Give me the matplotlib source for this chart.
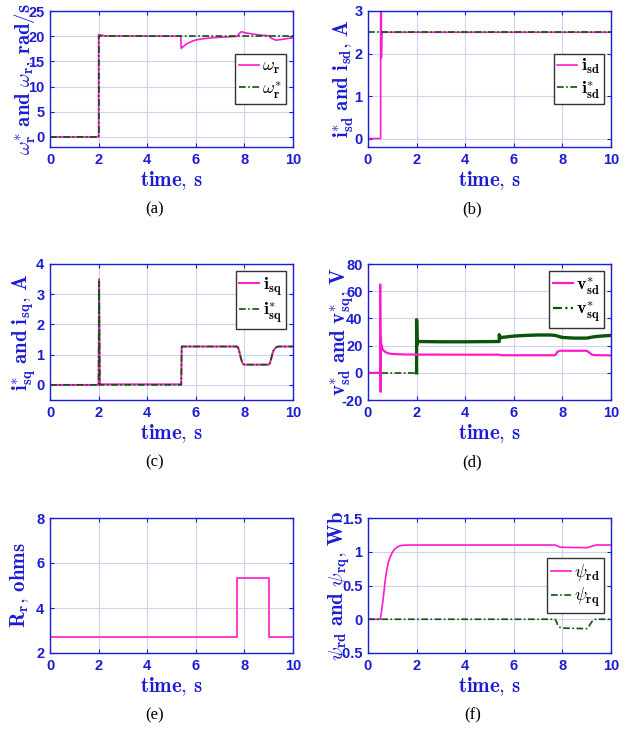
import numpy as np
import matplotlib.pyplot as plt
from matplotlib.lines import Line2D
from matplotlib.ticker import FuncFormatter

plt.rcParams['mathtext.fontset'] = 'cm'
plt.rcParams['axes.unicode_minus'] = False

BLUE = '#1c1cd2'
PINK = '#ff1acb'
GREEN = '#0b550b'
GRID = '#cfd3f0'
DASHDOT = (0, (4, 1.5, 1, 1.5))

# (a) rotor speed
t_wr = [0, 2.0, 2.0, 2.1, 2.3, 5.38, 5.4, 5.45, 5.6, 5.8, 6.0, 6.3, 6.7, 7.2, 7.7,
        7.78, 7.88, 8.0, 8.3, 8.7, 9.0, 9.1, 9.3, 9.6, 10]
wr = [0, 0, 20.3, 20.2, 20.05, 20.0, 17.6, 17.8, 18.4, 18.9, 19.25, 19.5, 19.7, 19.85, 19.95,
      20.5, 20.9, 20.7, 20.45, 20.2, 20.1, 19.6, 19.2, 19.4, 19.7]
t_wr_ref = [0, 2.0, 2.0, 10]
wr_ref = [0, 0, 20, 20]

# (b) d-axis stator current
t_isd = [0, 0.52, 0.52, 0.55, 0.55, 0.57, 10]
isd = [0, 0, 8, 8, 1.9, 2.5, 2.5]
t_isd_ref = [0, 10]
isd_ref = [2.5, 2.5]

# (c) q-axis stator current
t_isq = [0, 2.0, 2.02, 2.05, 5.4, 5.42, 7.7, 7.75, 7.8, 7.85, 7.9, 7.95, 8.0,
         9.0, 9.05, 9.1, 9.15, 9.2, 9.3, 9.4, 10]
isq = [0, 0, 3.5, 0.02, 0.02, 1.27, 1.27, 1.22, 1.08, 0.9, 0.76, 0.69, 0.67,
       0.67, 0.72, 0.86, 1.02, 1.14, 1.24, 1.27, 1.27]
isq_ref = [0, 0, 3.42, 0.0, 0.0, 1.27, 1.27, 1.22, 1.08, 0.9, 0.76, 0.69, 0.67,
           0.67, 0.72, 0.86, 1.02, 1.14, 1.24, 1.27, 1.27]

# (d) voltage references
t_vsd = [0, 0.5, 0.5, 0.52, 0.53, 0.55, 0.57, 0.6, 0.7, 0.8, 1.0, 1.5, 2.0, 5.4, 5.5,
         7.7, 7.8, 7.9, 9.0, 9.1, 9.2, 9.3, 10]
vsd = [0, 0, 65, -14, 26, 18, 20, 17, 15.5, 14.5, 13.8, 13.5, 13.4, 13.3, 12.9,
       12.9, 15.5, 16.2, 16.2, 15, 13.5, 13, 12.8]
t_vsq = [0, 2.0, 2.0, 2.02, 2.05, 3, 4, 5.4, 5.4, 5.45, 5.5, 6.0, 6.5, 7.0, 7.5,
         7.7, 8.0, 8.5, 9.0, 9.3, 9.6, 10]
vsq = [0, 0, 39, 21, 23, 22.8, 22.8, 23, 28, 25.5, 26, 27, 27.5, 27.8, 27.8,
       27.5, 26, 25.5, 25.5, 26.5, 27, 27.5]

# (e) rotor resistance
t_rr = [0, 7.7, 7.7, 9.0, 9.0, 10]
rr = [2.7, 2.7, 5.35, 5.35, 2.7, 2.7]

# (f) rotor flux
t_prd = [0, 0.5, 0.55, 0.62, 0.7, 0.75, 0.82, 0.89, 1.0, 1.1, 1.25, 1.4, 1.7,
         7.7, 7.9, 8.1, 9.0, 9.2, 9.4, 10]
prd = [0, 0, 0.1, 0.29, 0.55, 0.68, 0.82, 0.9, 0.99, 1.04, 1.08, 1.095, 1.1,
       1.1, 1.07, 1.065, 1.06, 1.08, 1.1, 1.1]
t_prq = [0, 7.7, 7.75, 7.8, 7.9, 8.0, 9.0, 9.1, 9.2, 9.35, 10]
prq = [0, 0, -0.03, -0.08, -0.12, -0.13, -0.14, -0.1, -0.04, 0, 0]

W, H = 638, 732
fig = plt.figure(figsize=(W / 100, H / 100), dpi=100)


def make_axes(left, top, bottom):
    w = 243
    h = bottom - top
    return fig.add_axes([left / W, (H - bottom) / H, w / W, h / H])


def style(ax, ylim, yticks, ylabel, caption, ylab_x=-0.05):
    ax.set_xlim(0, 10)
    ax.set_ylim(*ylim)
    ax.set_xticks([0, 2, 4, 6, 8, 10])
    ax.set_yticks(yticks)
    fmt = FuncFormatter(lambda v, p: '{:g}'.format(v))
    ax.xaxis.set_major_formatter(fmt)
    ax.yaxis.set_major_formatter(fmt)
    ax.grid(True, color=GRID, linewidth=0.8)
    ax.set_axisbelow(True)
    for s in ax.spines.values():
        s.set_color(BLUE)
        s.set_linewidth(1.0)
    ax.tick_params(direction='in', length=3, width=0.8, colors=BLUE,
                   top=True, right=True, pad=4)
    for lab in ax.get_xticklabels() + ax.get_yticklabels():
        lab.set_fontfamily('Liberation Sans')
        lab.set_fontweight('bold')
        lab.set_fontsize(10.5)
    ax.set_xlabel(r'$\mathbf{time,\,s}$', color=BLUE, fontsize=15, labelpad=2)
    ax.set_ylabel(ylabel, color=BLUE, fontsize=15)
    ax.yaxis.set_label_coords(ylab_x, 0.5)
    ax.text(0.43, -0.46, caption, transform=ax.transAxes, ha='center', va='center',
            fontfamily='Liberation Serif', fontsize=12, color='black')


def legend(ax, handles, labels, loc):
    lg = ax.legend(handles, labels, loc=loc, fontsize=13, frameon=True, fancybox=False,
                   framealpha=1, edgecolor='#333333', borderpad=0.2, labelspacing=0.12,
                   handlelength=1.1, handletextpad=0.2, borderaxespad=0.4)
    lg.get_frame().set_linewidth(1.0)


# (a)
ax = make_axes(50, 11, 147)
l1, = ax.plot(t_wr, wr, color=PINK, lw=1.2)
l2, = ax.plot(t_wr_ref, wr_ref, color=GREEN, lw=1.2, ls=DASHDOT)
style(ax, (-2, 25), [0, 5, 10, 15, 20, 25],
      r'$\omega^{*}_{\mathbf{r}}\ \mathbf{and}\ \omega_{\mathbf{r}}\mathbf{,\,rad/s}$', '(a)')
legend(ax, [l1, l2], [r'$\omega_{\mathbf{r}}$', r'$\omega^{*}_{\mathbf{r}}$'], 'center right')

# (b)
ax = make_axes(368, 11, 147)
l1, = ax.plot(t_isd, isd, color=PINK, lw=1.2)
l2, = ax.plot(t_isd_ref, isd_ref, color=GREEN, lw=1.2, ls=DASHDOT)
style(ax, (-0.2, 3), [0, 1, 2, 3],
      r'$\mathbf{i}^{*}_{\mathbf{sd}}\ \mathbf{and}\ \mathbf{i}_{\mathbf{sd}}\mathbf{,\,A}$', '(b)')
legend(ax, [l1, l2], [r'$\mathbf{i}_{\mathbf{sd}}$', r'$\mathbf{i}^{*}_{\mathbf{sd}}$'], 'center right')

# (c)
ax = make_axes(50, 264, 400)
l1, = ax.plot(t_isq, isq, color=PINK, lw=1.4)
l2, = ax.plot(t_isq, isq_ref, color=GREEN, lw=1.2, ls=DASHDOT)
style(ax, (-0.5, 4), [0, 1, 2, 3, 4],
      r'$\mathbf{i}^{*}_{\mathbf{sq}}\ \mathbf{and}\ \mathbf{i}_{\mathbf{sq}}\mathbf{,\,A}$', '(c)')
legend(ax, [l1, l2], [r'$\mathbf{i}_{\mathbf{sq}}$', r'$\mathbf{i}^{*}_{\mathbf{sq}}$'], 'upper right')

# (d)
ax = make_axes(368, 264, 400)
ax.plot(t_vsq[:2], vsq[:2], color=GREEN, lw=1.2, ls=DASHDOT)
ax.plot(t_vsq[1:], vsq[1:], color=GREEN, lw=2.4)
l1, = ax.plot(t_vsd, vsd, color=PINK, lw=1.6)
l2 = Line2D([], [], color=GREEN, lw=1.6, ls=DASHDOT)
style(ax, (-20, 80), [-20, 0, 20, 40, 60, 80],
      r'$\mathbf{v}^{*}_{\mathbf{sd}}\ \mathbf{and}\ \mathbf{v}^{*}_{\mathbf{sq}}\mathbf{,\,V}$', '(d)')
legend(ax, [l1, l2], [r'$\mathbf{v}^{*}_{\mathbf{sd}}$', r'$\mathbf{v}^{*}_{\mathbf{sq}}$'], 'upper right')

# (e)
ax = make_axes(50, 518, 653)
ax.plot(t_rr, rr, color=PINK, lw=1.2)
style(ax, (2, 8), [2, 4, 6, 8], r'$\mathbf{R}_{\mathbf{r}}\mathbf{,\,ohms}$', '(e)', ylab_x=-0.08)

# (f)
ax = make_axes(368, 518, 653)
l1, = ax.plot(t_prd, prd, color=PINK, lw=1.2)
l2, = ax.plot(t_prq, prq, color=GREEN, lw=1.2, ls=DASHDOT)
style(ax, (-0.5, 1.5), [-0.5, 0, 0.5, 1, 1.5],
      r'$\psi_{\mathbf{rd}}\ \mathbf{and}\ \psi_{\mathbf{rq}}\mathbf{,\,Wb}$', '(f)', ylab_x=-0.066)
legend(ax, [l1, l2], [r'$\psi_{\mathbf{rd}}$', r'$\psi_{\mathbf{rq}}$'], 'center right')

fig.savefig('out.png', dpi=100)
